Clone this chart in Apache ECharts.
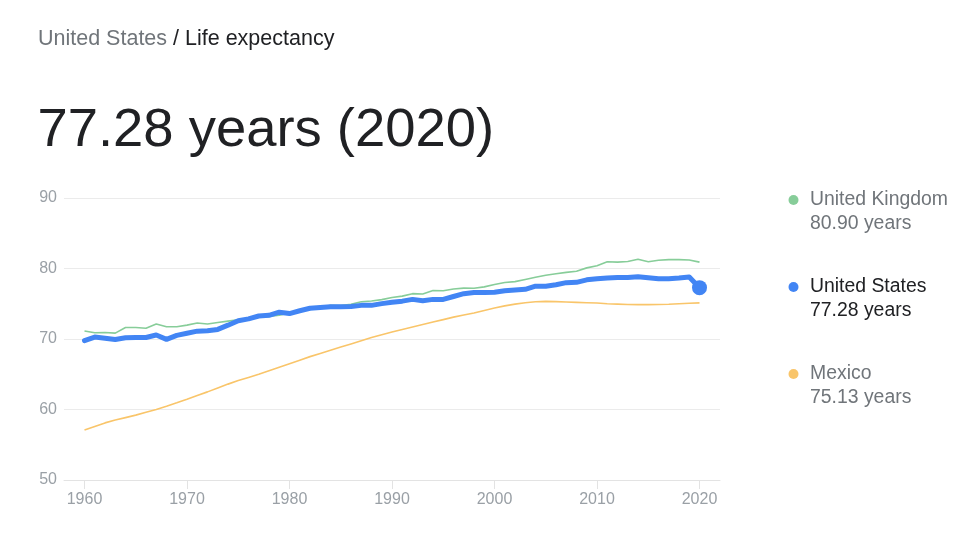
<!DOCTYPE html>
<html>
<head>
<meta charset="utf-8">
<style>
  html, body { margin: 0; padding: 0; background: #ffffff; }
  #chart { width: 960px; height: 551px; }
</style>
<script src="https://cdn.jsdelivr.net/npm/echarts@6/dist/echarts.min.js"></script>
</head>
<body>
<div id="chart"></div>
<script>
const years = [1960,1961,1962,1963,1964,1965,1966,1967,1968,1969,1970,1971,1972,1973,1974,1975,1976,1977,1978,1979,1980,1981,1982,1983,1984,1985,1986,1987,1988,1989,1990,1991,1992,1993,1994,1995,1996,1997,1998,1999,2000,2001,2002,2003,2004,2005,2006,2007,2008,2009,2010,2011,2012,2013,2014,2015,2016,2017,2018,2019,2020];

const unitedStates = [69.77,70.27,70.12,69.92,70.17,70.21,70.21,70.56,69.95,70.51,70.81,71.11,71.16,71.36,71.96,72.60,72.86,73.26,73.36,73.80,73.61,74.01,74.36,74.46,74.56,74.56,74.61,74.77,74.77,75.02,75.21,75.37,75.62,75.42,75.62,75.62,76.03,76.43,76.58,76.58,76.64,76.84,76.94,77.04,77.49,77.49,77.69,77.99,78.04,78.39,78.54,78.64,78.74,78.74,78.84,78.69,78.54,78.54,78.64,78.79,77.28];

const unitedKingdom = [71.13,70.88,70.93,70.83,71.63,71.63,71.53,72.13,71.73,71.74,71.97,72.27,72.13,72.33,72.53,72.73,72.73,73.18,73.18,73.38,73.68,74.03,74.18,74.43,74.78,74.73,74.93,75.28,75.38,75.59,75.88,76.08,76.43,76.39,76.89,76.84,77.09,77.21,77.19,77.39,77.74,78.01,78.14,78.45,78.76,79.05,79.25,79.45,79.62,80.09,80.40,80.95,80.90,81.00,81.30,80.96,81.16,81.26,81.26,81.20,80.90];

const mexico = [57.10,57.60,58.10,58.50,58.85,59.20,59.60,60.00,60.45,60.95,61.46,62.00,62.50,63.05,63.60,64.10,64.55,65.00,65.50,66.00,66.50,67.00,67.50,67.95,68.40,68.85,69.30,69.75,70.20,70.60,71.00,71.35,71.70,72.05,72.40,72.75,73.10,73.40,73.70,74.05,74.40,74.70,74.95,75.15,75.28,75.33,75.30,75.25,75.20,75.15,75.10,75.00,74.95,74.90,74.88,74.88,74.90,74.93,75.00,75.07,75.13];

const xTicks = [1960,1970,1980,1990,2000,2010,2020];
const yTicks = [50,60,70,80,90];

const seriesColors = { 'United Kingdom': '#87cd99', 'United States': '#4285f4', 'Mexico': '#f9c56a' };

const FONT = "'Liberation Sans', Arial, Helvetica, sans-serif";

function pairs(vals) { return years.map((y, i) => [y, vals[i]]); }
const lastYear = years[years.length - 1];
const lastVal = { 'United Kingdom': unitedKingdom[unitedKingdom.length-1], 'United States': unitedStates[unitedStates.length-1], 'Mexico': mexico[mexico.length-1] };

const chart = echarts.init(document.getElementById('chart'), null, { renderer: 'canvas' });

const option = {
  animation: false,
  backgroundColor: '#ffffff',
  textStyle: { fontFamily: FONT },
  title: [
    {
      left: 38, top: 28, padding: 0,
      text: '{g|United States}{d| / Life expectancy}',
      textStyle: {
        fontFamily: FONT, fontWeight: 'normal', fontSize: 21.5,
        rich: {
          g: { color: '#70757a', fontSize: 21.5, fontWeight: 'normal', fontFamily: FONT },
          d: { color: '#202124', fontSize: 21.5, fontWeight: 'normal', fontFamily: FONT }
        }
      }
    },
    {
      left: 37.5, top: 104, padding: 0,
      text: lastVal['United States'].toFixed(2) + ' years (' + lastYear + ')',
      textStyle: { color: '#202124', fontSize: 54.4, fontWeight: 'normal', fontFamily: FONT }
    }
  ],
  legend: {
    orient: 'vertical',
    left: 788.5, top: 164, padding: 0,
    icon: 'circle',
    itemWidth: 10, itemHeight: 10,
    itemGap: 17.5,
    itemTextGap: 5,
    selectedMode: false,
    data: [
      { name: 'United Kingdom', textStyle: { color: '#70757a' } },
      { name: 'United States', textStyle: { color: '#202124' } },
      { name: 'Mexico', textStyle: { color: '#70757a' } }
    ],
    formatter: function (name) {
      return '{p|}\n{n|' + name + '}\n{v|' + lastVal[name].toFixed(2) + ' years}';
    },
    textStyle: {
      fontFamily: FONT,
      fontSize: 19.4,
      rich: {
        p: { height: 24, lineHeight: 24, fontSize: 19.4 },
        n: { lineHeight: 24, fontSize: 19.4, fontFamily: FONT, padding: [0, 0, 0, 6.5] },
        v: { lineHeight: 24, fontSize: 19.4, fontFamily: FONT, padding: [0, 0, 0, 6.5] }
      }
    }
  },
  grid: { left: 64, right: 240, top: 198, bottom: 71, containLabel: false },
  xAxis: {
    type: 'value',
    min: 1958, max: 2022,
    axisLine: { show: true, lineStyle: { color: '#e3e3e3', width: 1 } },
    axisTick: { show: true, customValues: xTicks, length: 9, lineStyle: { color: '#e3e3e3' } },
    axisLabel: { customValues: xTicks, color: '#9aa0a6', fontSize: 16, margin: 12, fontFamily: FONT, formatter: v => String(v) },
    splitLine: { show: false }
  },
  yAxis: {
    type: 'value',
    min: yTicks[0], max: yTicks[yTicks.length - 1], interval: 10,
    axisLine: { show: false },
    axisTick: { show: false },
    axisLabel: { color: '#9aa0a6', fontSize: 16, margin: 7, fontFamily: FONT },
    splitLine: { show: true, lineStyle: { color: '#ebebeb', width: 1 } }
  },
  series: [
    {
      name: 'Mexico', type: 'line', data: pairs(mexico),
      color: seriesColors['Mexico'],
      showSymbol: false, symbol: 'none',
      lineStyle: { width: 1.6, color: seriesColors['Mexico'] },
      z: 2
    },
    {
      name: 'United Kingdom', type: 'line', data: pairs(unitedKingdom),
      color: seriesColors['United Kingdom'],
      showSymbol: false, symbol: 'none',
      lineStyle: { width: 1.6, color: seriesColors['United Kingdom'] },
      z: 3
    },
    {
      name: 'United States', type: 'line', data: pairs(unitedStates),
      color: seriesColors['United States'],
      symbol: 'circle',
      showSymbol: true, showAllSymbol: true,
      symbolSize: function (v, p) { return p.dataIndex === years.length - 1 ? 15 : 0; },
      itemStyle: { color: seriesColors['United States'] },
      lineStyle: { width: 5, color: seriesColors['United States'], cap: 'round', join: 'round' },
      z: 4
    }
  ]
};

chart.setOption(option);
</script>
</body>
</html>
